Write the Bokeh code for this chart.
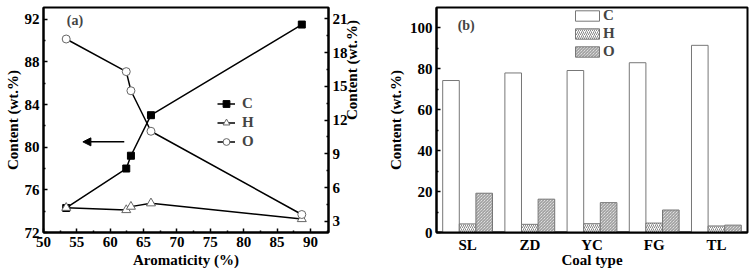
import math
from bokeh.plotting import figure
from bokeh.models import (Range1d, FactorRange, LinearAxis, FixedTicker, Legend, LegendItem,
                          Arrow, NormalHead, Label, ColumnDataSource)
from bokeh.layouts import row
from bokeh.transform import dodge
from bokeh.embed import file_html
from bokeh.resources import INLINE

# ---- data ----
coal_types = ["SL", "ZD", "YC", "FG", "TL"]
aromaticity = [53.4, 62.4, 63.1, 66.1, 88.7]
carbon = [74.3, 78.0, 79.2, 83.0, 91.5]
hydrogen = [4.2, 4.0, 4.3, 4.6, 3.2]
oxygen = [19.2, 16.3, 14.6, 11.0, 3.6]

FONT = "Liberation Serif"
TS = "15px"


def style_axis(ax, major_in=4, minor_in=2):
    ax.axis_line_width = 2
    ax.axis_line_color = "black"
    ax.major_tick_in = major_in
    ax.major_tick_out = 0
    ax.minor_tick_in = minor_in
    ax.minor_tick_out = 0
    ax.major_tick_line_width = 1.5
    ax.minor_tick_line_width = 1.5
    ax.major_label_text_font = FONT
    ax.major_label_text_font_style = "bold"
    ax.major_label_text_font_size = TS
    ax.major_label_text_color = "black"
    ax.axis_label_text_font = FONT
    ax.axis_label_text_font_style = "bold"
    ax.axis_label_text_font_size = TS
    ax.axis_label_text_color = "black"


# ---------------- panel (a) ----------------
pa = figure(width=370, height=277, x_range=Range1d(50, 92.7), y_range=Range1d(72, 93.1),
            output_backend="svg", toolbar_location=None,
            min_border_left=43, min_border_right=41, min_border_top=7, min_border_bottom=44)
pa.extra_y_ranges = {"right": Range1d(2, 22)}
pa.grid.visible = False
pa.outline_line_color = "black"
pa.outline_line_width = 2
pa.outline_line_alpha = 1

pa.xaxis.ticker = FixedTicker(ticks=list(range(50, 95, 5)),
                              minor_ticks=[52.5 + 5 * i for i in range(9)])
pa.xaxis.axis_label = "Aromaticity (%)"
pa.yaxis.ticker = FixedTicker(ticks=list(range(72, 96, 4)),
                              minor_ticks=list(range(74, 94, 4)))
pa.yaxis.axis_label = "Content (wt.%)"
for ax in pa.xaxis + pa.yaxis:
    style_axis(ax)
pa.xaxis.major_label_standoff = 4
pa.xaxis.axis_label_standoff = 2
pa.yaxis.major_label_standoff = 4
pa.yaxis.axis_label_standoff = 1

rax = LinearAxis(y_range_name="right", axis_label="Content (wt.%)",
                 ticker=FixedTicker(ticks=list(range(3, 22, 3)),
                                    minor_ticks=[4.5 + 3 * i for i in range(6)]))
style_axis(rax)
rax.major_label_standoff = 4
rax.axis_label_standoff = 1
rax.axis_label_orientation = math.pi / 2
pa.add_layout(rax, "right")

lc = pa.line(aromaticity, carbon, line_color="black", line_width=1.5)
sc = pa.scatter(aromaticity, carbon, marker="square", size=7, fill_color="black", line_color="black")
lh = pa.line(aromaticity, hydrogen, y_range_name="right", line_color="black", line_width=1.5)
sh = pa.scatter(aromaticity, hydrogen, y_range_name="right", marker="triangle", size=9,
                fill_color="white", line_color="#666666", line_width=1)
lo = pa.line(aromaticity, oxygen, y_range_name="right", line_color="black", line_width=1.5)
so = pa.scatter(aromaticity, oxygen, y_range_name="right", marker="circle", size=8,
                fill_color="white", line_color="#666666", line_width=1)

leg_a = Legend(items=[LegendItem(label="C", renderers=[lc, sc]),
                      LegendItem(label="H", renderers=[lh, sh]),
                      LegendItem(label="O", renderers=[lo, so])],
               location=(174, 82), glyph_width=18, glyph_height=17, label_height=17,
               label_standoff=7, spacing=2, padding=0, margin=0,
               border_line_color=None, background_fill_alpha=0,
               label_text_font=FONT, label_text_font_style="bold", label_text_font_size=TS)
pa.add_layout(leg_a)

pa.add_layout(Arrow(end=NormalHead(size=8, fill_color="black", line_color="black"),
                    x_start=62.1, y_start=80.5, x_end=55.9, y_end=80.5,
                    line_width=1.5, line_color="black"))
pa.add_layout(Label(x=53.5, y=91.9, text="(a)", text_font=FONT, text_font_style="bold",
                    text_font_size="14px", text_baseline="middle", text_align="left"))

# ---------------- panel (b) ----------------
pb = figure(width=381, height=277, x_range=FactorRange(factors=coal_types, range_padding=0),
            y_range=Range1d(0, 110), output_backend="svg", toolbar_location=None,
            min_border_left=66, min_border_right=4, min_border_top=3, min_border_bottom=45)
pb.grid.visible = False
pb.outline_line_color = "black"
pb.outline_line_width = 2
pb.x_range.range_padding = 0

src = ColumnDataSource(dict(coal=coal_types, C=carbon, H=hydrogen, O=oxygen))
bw = 0.267
vc = pb.vbar(x=dodge("coal", -bw, range=pb.x_range), top="C", width=bw, source=src,
             fill_color="white", line_color="#777777", line_width=1)
vh = pb.vbar(x=dodge("coal", 0, range=pb.x_range), top="H", width=bw, source=src,
             fill_color="white", line_color="#777777", line_width=1,
             hatch_pattern="/", hatch_color="#555555", hatch_scale=4, hatch_weight=0.7)
vo = pb.vbar(x=dodge("coal", bw, range=pb.x_range), top="O", width=bw, source=src,
             fill_color="white", line_color="#777777", line_width=1,
             hatch_pattern="\\", hatch_color="#555555", hatch_scale=3, hatch_weight=0.7)

pb.yaxis.ticker = FixedTicker(ticks=list(range(0, 120, 20)), minor_ticks=list(range(10, 110, 20)))
pb.yaxis.axis_label = "Content (wt.%)"
pb.xaxis.axis_label = "Coal type"
for ax in pb.xaxis + pb.yaxis:
    style_axis(ax)
pb.xaxis.major_tick_in = 0
pb.xaxis.minor_tick_in = 0
pb.xaxis.major_label_standoff = 4
pb.xaxis.axis_label_standoff = -4
pb.yaxis.major_label_standoff = 4
pb.yaxis.axis_label_standoff = 3

leg_b = Legend(items=[LegendItem(label="C", renderers=[vc]),
                      LegendItem(label="H", renderers=[vh]),
                      LegendItem(label="O", renderers=[vo])],
               location=(136, 172), glyph_width=30, glyph_height=13, label_height=13,
               label_standoff=1, spacing=1, padding=0, margin=0,
               border_line_color=None, background_fill_alpha=0,
               label_text_font=FONT, label_text_font_style="bold", label_text_font_size=TS)
pb.add_layout(leg_b)
pb.add_layout(Label(x=0.34, y=101, text="(b)", text_font=FONT,
                    text_font_style="bold", text_font_size="14px",
                    text_baseline="middle", text_align="left"))

layout = row(pa, pb)
open("out.html", "w").write(file_html(layout, INLINE))
